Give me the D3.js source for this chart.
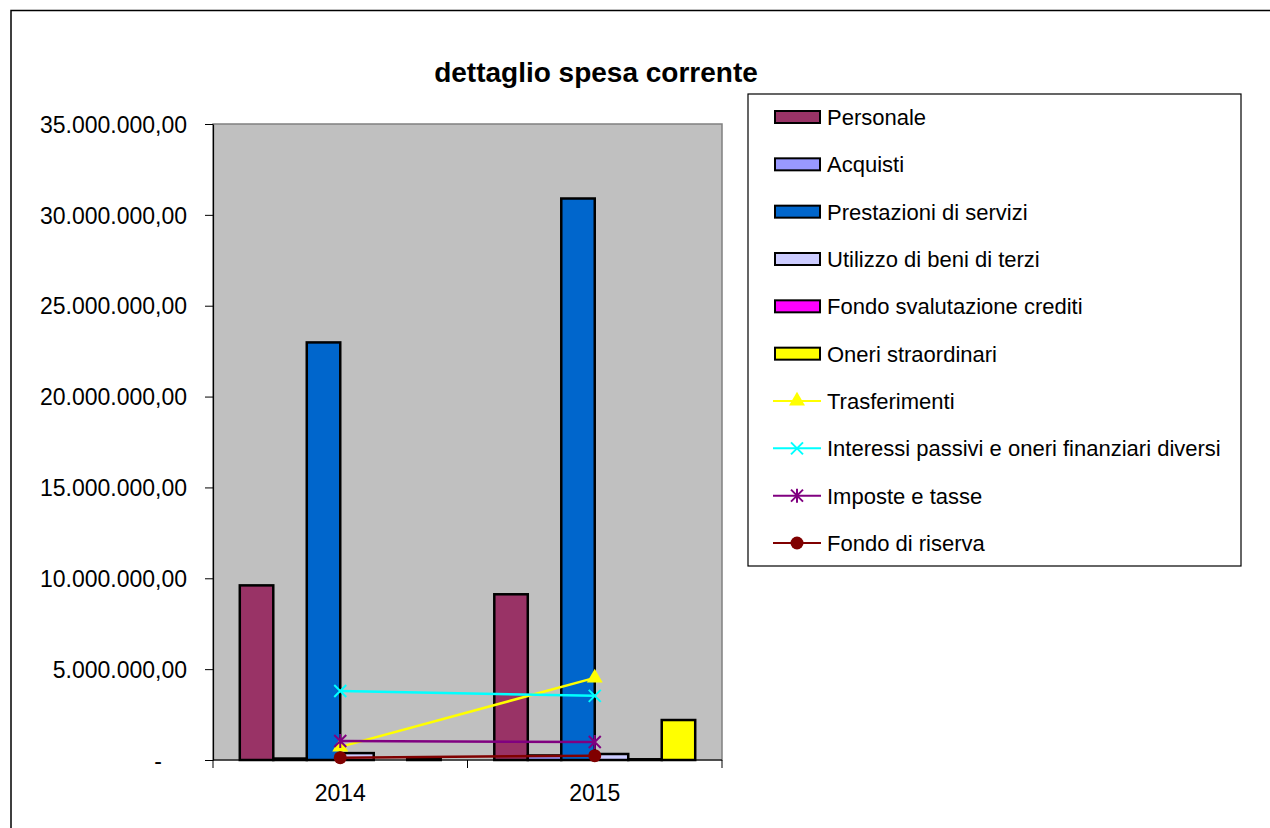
<!DOCTYPE html>
<html>
<head>
<meta charset="utf-8">
<script src="https://cdn.jsdelivr.net/npm/d3@7"></script>
<style>
  body { margin: 0; background: #fff; font-family: "Liberation Sans", Arial, sans-serif; }
</style>
</head>
<body>
<div id="chart"></div>
<script>
// categories and values
const years = ["2014", "2015"];

const barSeries = ["Personale", "Acquisti", "Prestazioni di servizi", "Utilizzo di beni di terzi",
    "Fondo svalutazione crediti", "Oneri straordinari"];
const barColors = ["#993366", "#9999ff", "#0066cc", "#ccccff", "#ff00ff", "#ffff00"];
const personale = [9610000, 9120000];
const acquisti = [80000, 250000];
const prestazioni = [22980000, 30900000];
const utilizzo = [380000, 330000];
const fondoSvalutazione = [0, 40000];
const oneriStraordinari = [60000, 2200000];

const lineSeries = ["Trasferimenti", "Interessi passivi e oneri finanziari diversi", "Imposte e tasse", "Fondo di riserva"];
const lineColors = ["#ffff00", "#00ffff", "#800080", "#800000"];
const lineMarkers = ["triangle", "x", "star", "circle"];
const trasferimenti = [720000, 4520000];
const interessi = [3800000, 3530000];
const imposte = [1050000, 990000];
const fondoRiserva = [130000, 240000];

const yTicks = [0, 5000000, 10000000, 15000000, 20000000, 25000000, 30000000, 35000000];

const barValues = [personale, acquisti, prestazioni, utilizzo, fondoSvalutazione, oneriStraordinari];
const lineValues = [trasferimenti, interessi, imposte, fondoRiserva];

const W = 1270, H = 828;
const plot = { left: 213, top: 124, right: 722, bottom: 760 };

const svg = d3.select("#chart").append("svg")
    .attr("width", W)
    .attr("height", H);

// outer chart frame
svg.append("rect")
    .attr("x", 11).attr("y", 10.5)
    .attr("width", W + 20).attr("height", H + 20)
    .attr("fill", "#fff")
    .attr("stroke", "#000").attr("stroke-width", 1.5);

svg.append("text")
    .attr("x", 596).attr("y", 82)
    .attr("text-anchor", "middle")
    .attr("font-size", 28).attr("font-weight", "bold")
    .text("dettaglio spesa corrente");

const x = d3.scaleBand()
    .domain(years)
    .range([plot.left, plot.right]);

const y = d3.scaleLinear()
    .domain([0, 35000000])
    .range([plot.bottom, plot.top]);

// inner band for the 6 bars (gap width ~160%)
const xBar = d3.scaleBand()
    .domain(barSeries)
    .range([0, x.bandwidth()])
    .paddingOuter(0.8)
    .paddingInner(0);

// plot area
svg.append("rect")
    .attr("x", plot.left).attr("y", plot.top)
    .attr("width", plot.right - plot.left).attr("height", plot.bottom - plot.top)
    .attr("fill", "#c0c0c0")
    .attr("stroke", "#808080").attr("stroke-width", 1.5);

// y axis
const fmt = d => d === 0 ? "-" : d3.format(",.2f")(d).replace(/,/g, "#").replace(".", ",").replace(/#/g, ".");
const yAxis = svg.append("g")
    .attr("transform", `translate(${plot.left},0)`)
    .call(d3.axisLeft(y).tickValues(yTicks).tickFormat(fmt).tickSizeInner(8).tickSizeOuter(0).tickPadding(18));
yAxis.select(".domain").attr("stroke", "#000").attr("stroke-width", 1.2);
yAxis.selectAll(".tick line").attr("stroke", "#000");
yAxis.selectAll("text").attr("font-size", 23).attr("fill", "#000")
    .attr("dy", "0.36em")
    .attr("font-family", "Liberation Sans, Arial, sans-serif");
yAxis.selectAll(".tick").filter(d => d === 0).select("text").attr("dx", -25);

// bars
years.forEach((yr, i) => {
    svg.append("g")
        .selectAll("rect")
        .data(barSeries)
        .join("rect")
        .attr("x", s => x(yr) + xBar(s))
        .attr("width", xBar.bandwidth())
        .attr("y", (s, j) => y(barValues[j][i]))
        .attr("height", (s, j) => plot.bottom - y(barValues[j][i]))
        .attr("fill", (s, j) => barColors[j])
        .attr("stroke", "#000").attr("stroke-width", 2.5);
});

// x axis
svg.append("line")
    .attr("x1", plot.left).attr("x2", plot.right)
    .attr("y1", plot.bottom).attr("y2", plot.bottom)
    .attr("stroke", "#000").attr("stroke-width", 1.2);
const boundaries = [plot.left].concat(years.map(d => x(d) + x.bandwidth()));
svg.selectAll(".xtick")
    .data(boundaries)
    .join("line")
    .attr("class", "xtick")
    .attr("x1", d => d).attr("x2", d => d)
    .attr("y1", plot.bottom).attr("y2", plot.bottom + 8)
    .attr("stroke", "#000");
svg.selectAll(".xlabel")
    .data(years)
    .join("text")
    .attr("class", "xlabel")
    .attr("x", d => x(d) + x.bandwidth() / 2)
    .attr("y", 801)
    .attr("text-anchor", "middle")
    .attr("font-size", 23)
    .text(d => d);

// marker shapes
function drawMarker(g, type, color, cx, cy) {
    if (type === "triangle") {
        g.append("path")
            .attr("d", d3.symbol(d3.symbolTriangle, 110)())
            .attr("transform", `translate(${cx},${cy})`)
            .attr("fill", color);
    } else if (type === "x") {
        g.append("path")
            .attr("d", "M-6,-6L6,6M-6,6L6,-6")
            .attr("transform", `translate(${cx},${cy})`)
            .attr("stroke", color).attr("stroke-width", 2);
    } else if (type === "star") {
        g.append("path")
            .attr("d", "M-6,-6L6,6M-6,6L6,-6M0,-7L0,7")
            .attr("transform", `translate(${cx},${cy})`)
            .attr("stroke", color).attr("stroke-width", 2);
    } else {
        g.append("circle")
            .attr("cx", cx).attr("cy", cy).attr("r", 6.5)
            .attr("fill", color);
    }
}

// lines
const line = d3.line()
    .x((d, i) => x(years[i]) + x.bandwidth() / 2)
    .y(d => y(d));

lineSeries.forEach((s, j) => {
    const g = svg.append("g");
    g.append("path")
        .attr("d", line(lineValues[j]))
        .attr("fill", "none")
        .attr("stroke", lineColors[j]).attr("stroke-width", 2.5);
    lineValues[j].forEach((v, i) => {
        drawMarker(g, lineMarkers[j], lineColors[j], x(years[i]) + x.bandwidth() / 2, y(v));
    });
});

// legend
const legend = svg.append("g");
legend.append("rect")
    .attr("x", 748).attr("y", 94)
    .attr("width", 493).attr("height", 472)
    .attr("fill", "#fff")
    .attr("stroke", "#000").attr("stroke-width", 1.2);

const allSeries = barSeries.concat(lineSeries);
const legY = d3.scalePoint()
    .domain(allSeries)
    .range([117, 543]);

allSeries.forEach((s, k) => {
    const ly = legY(s);
    const g = legend.append("g");
    if (k < barSeries.length) {
        g.append("rect")
            .attr("x", 775).attr("y", ly - 6)
            .attr("width", 45).attr("height", 12)
            .attr("fill", barColors[k])
            .attr("stroke", "#000").attr("stroke-width", 2);
    } else {
        const j = k - barSeries.length;
        g.append("line")
            .attr("x1", 773).attr("x2", 821)
            .attr("y1", ly).attr("y2", ly)
            .attr("stroke", lineColors[j]).attr("stroke-width", 2);
        drawMarker(g, lineMarkers[j], lineColors[j], 797, ly);
    }
    g.append("text")
        .attr("x", 827).attr("y", ly + 8)
        .attr("font-size", 22)
        .text(s);
});
</script>
</body>
</html>
